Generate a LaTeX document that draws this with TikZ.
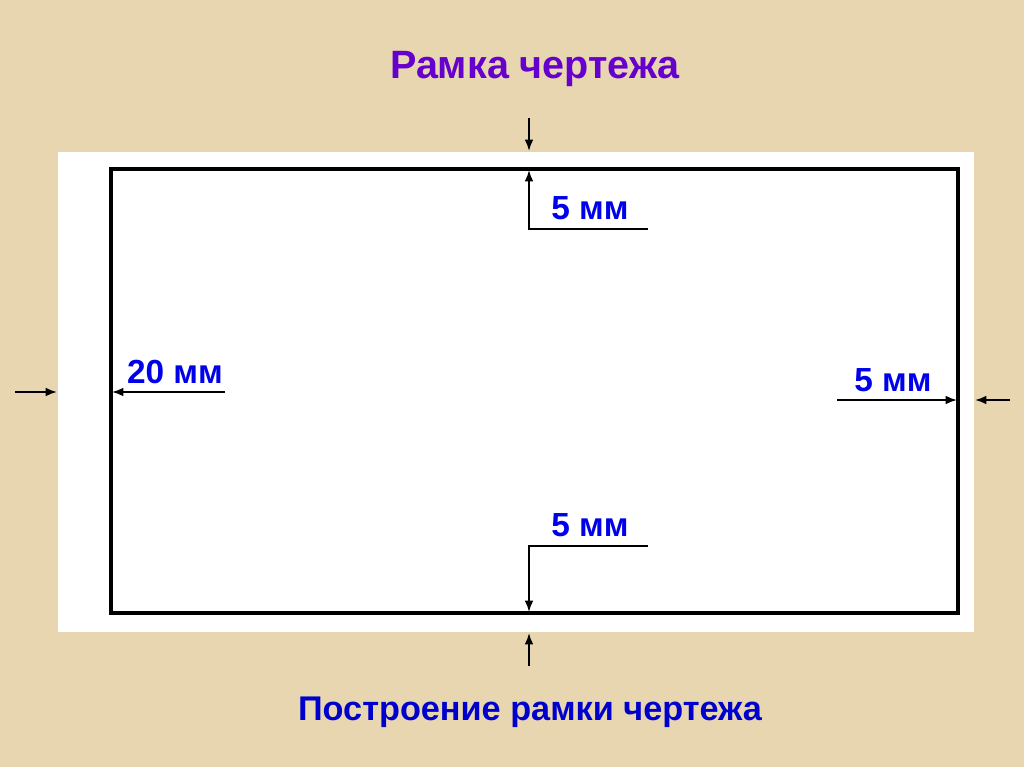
\documentclass[tikz,border=0pt]{standalone}
\usepackage{fontspec}
\setmainfont{Liberation Sans}
\usetikzlibrary{arrows.meta}
\definecolor{paper}{RGB}{232,214,176}
\definecolor{titleviolet}{RGB}{102,0,204}
\definecolor{dimblue}{RGB}{0,0,235}
\definecolor{capblue}{RGB}{0,0,204}

\begin{document}
\begin{tikzpicture}[x=0.02cm,y=-0.02cm,
    dim/.style={line width=1.05pt,-{Latex[length=6.5pt,width=5pt]}},
    dimlabel/.style={text=dimblue,font=\bfseries\fontsize{19}{22}\selectfont},
    caption/.style={font=\bfseries\fontsize{19.5}{23}\selectfont}]
    % background and sheet
    \fill[paper] (0,0) rectangle (1024,767);
    \fill[white] (58,152) rectangle (974,632);
    \draw[line width=2.3pt] (111,169) rectangle (958,613);

    \node[caption, text=titleviolet, font=\bfseries\fontsize{22.5}{26}\selectfont] (title) at (535,69) {Рамка чертежа};
    \node[caption, text=capblue] (caption) at (530,712) {Построение рамки чертежа};

    % top
    \coordinate (topout) at (529,118);
    \coordinate (topsheet) at (529,151);
    \coordinate (topframe) at (529,170);
    \coordinate (topbend) at (529,229);
    \coordinate (topend) at (648,229);
    \draw[dim] (topout) -- (topsheet);
    \draw[dim] (topend) -- (topbend) -- (topframe);
    \node[dimlabel] (toplabel) at (590,208) {5 мм};

    % bottom
    \coordinate (botout) at (529,666);
    \coordinate (botsheet) at (529,633);
    \coordinate (botframe) at (529,612);
    \coordinate (botbend) at (529,546);
    \coordinate (botend) at (648,546);
    \draw[dim] (botout) -- (botsheet);
    \draw[dim] (botend) -- (botbend) -- (botframe);
    \node[dimlabel] (botlabel) at (590,525) {5 мм};

    % left
    \coordinate (leftout) at (15,392);
    \coordinate (leftsheet) at (57,392);
    \coordinate (leftend) at (225,392);
    \coordinate (leftframe) at (112,392);
    \draw[dim] (leftout) -- (leftsheet);
    \draw[dim] (leftend) -- (leftframe);
    \node[dimlabel] (leftlabel) at (175,372) {20 мм};

    % right
    \coordinate (rightout) at (1010,400);
    \coordinate (rightsheet) at (975,400);
    \coordinate (rightend) at (837,400);
    \coordinate (rightframe) at (957,400);
    \draw[dim] (rightout) -- (rightsheet);
    \draw[dim] (rightend) -- (rightframe);
    \node[dimlabel] (rightlabel) at (893,380) {5 мм};
\end{tikzpicture}
\end{document}
